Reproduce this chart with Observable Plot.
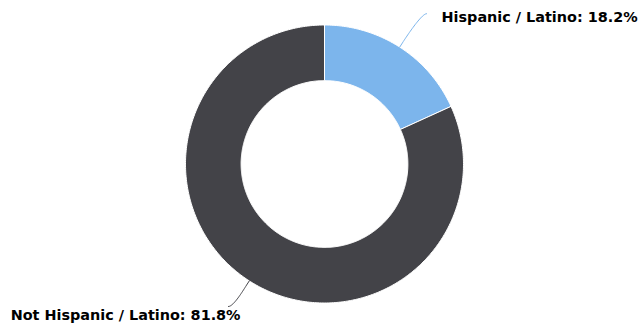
<!DOCTYPE html>
<html>
<head>
<meta charset="utf-8">
<script src="https://cdn.jsdelivr.net/npm/d3@7"></script>
<script src="https://cdn.jsdelivr.net/npm/@observablehq/plot@0.6"></script>
<style>
  html, body { margin: 0; padding: 0; background: #fff; }
  #chart svg { display: block; }
</style>
</head>
<body>
<div id="chart"></div>
<script>
// ---- data ----
const categories = ["Hispanic / Latino", "Not Hispanic / Latino"];
const values = [18.2, 81.8];
const colors = ["#7cb5ec", "#434348"];

// ---- layout (unit circle coordinates; 1 = outer radius) ----
const innerRatio = 0.6;
const labelLayout = [
  {connEnd: [0.734, 1.081], text: [0.842, 1.058], anchor: "start"},
  {connEnd: [-0.691, -1.025], text: [-0.604, -1.09], anchor: "end"}
];
const breakOffset = 6 / 139;

const W = 639, H = 331, cx = 324, cy = 163.5, R = 139;

const pie = d3.pie().sort(null).value(d => d)(values);
const pt = (a, r) => [Math.sin(a) * r, Math.cos(a) * r];

// slice polygons
const slicePts = [];
pie.forEach((p, i) => {
  const n = Math.max(8, Math.ceil((p.endAngle - p.startAngle) * 80));
  for (let k = 0; k <= n; k++) {
    const a = p.startAngle + (p.endAngle - p.startAngle) * k / n;
    const [x, y] = pt(a, 1);
    slicePts.push({key: categories[i], x, y});
  }
  for (let k = n; k >= 0; k--) {
    const a = p.startAngle + (p.endAngle - p.startAngle) * k / n;
    const [x, y] = pt(a, innerRatio);
    slicePts.push({key: categories[i], x, y});
  }
  const [x0, y0] = pt(p.startAngle, 1);
  slicePts.push({key: categories[i], x: x0, y: y0});
});

// connectors (soft connector)
const connPts = [];
pie.forEach((p, i) => {
  const mid = (p.startAngle + p.endAngle) / 2;
  const T = pt(mid, 1);
  const B = pt(mid, 1 + breakOffset);
  const L = labelLayout[i].connEnd;
  const dir = labelLayout[i].anchor === "start" ? -1 : 1;
  const c1 = [L[0] + dir * 5 / 139, L[1]];
  const c2 = [2 * B[0] - T[0], 2 * B[1] - T[1]];
  const n = 30;
  for (let k = 0; k <= n; k++) {
    const t = k / n, u = 1 - t;
    const x = u*u*u*L[0] + 3*u*u*t*c1[0] + 3*u*t*t*c2[0] + t*t*t*B[0];
    const y = u*u*u*L[1] + 3*u*u*t*c1[1] + 3*u*t*t*c2[1] + t*t*t*B[1];
    connPts.push({key: categories[i], x, y});
  }
  connPts.push({key: categories[i], x: T[0], y: T[1]});
});

const labels = categories.map((c, i) => ({
  key: c,
  label: `${c}: ${values[i].toFixed(1)}%`,
  x: labelLayout[i].text[0],
  y: labelLayout[i].text[1],
  anchor: labelLayout[i].anchor
}));

const chart = Plot.plot({
  width: W,
  height: H,
  margin: 0,
  style: {background: "#fff", fontFamily: "'DejaVu Sans', Verdana, sans-serif"},
  x: {domain: [-1, 1], range: [cx - R, cx + R], axis: null},
  y: {domain: [-1, 1], range: [cy + R, cy - R], axis: null},
  color: {domain: categories, range: colors},
  marks: [
    Plot.line(slicePts, {x: "x", y: "y", z: "key", fill: "key", stroke: "#ffffff", strokeWidth: 1, curve: "linear"}),
    Plot.line(connPts, {x: "x", y: "y", z: "key", stroke: "key", strokeWidth: 1, curve: "linear"}),
    Plot.text(labels.filter(d => d.anchor === "start"), {x: "x", y: "y", text: "label", textAnchor: "start", fontSize: 14.4, fontWeight: "bold", fill: "#000"}),
    Plot.text(labels.filter(d => d.anchor === "end"), {x: "x", y: "y", text: "label", textAnchor: "end", fontSize: 14.4, fontWeight: "bold", fill: "#000"})
  ]
});
document.getElementById("chart").appendChild(chart);
</script>
</body>
</html>
